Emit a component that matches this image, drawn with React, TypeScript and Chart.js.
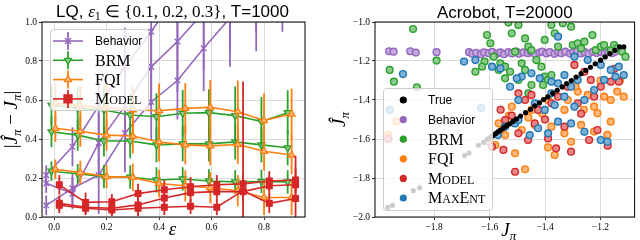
import React, { useEffect, useRef } from 'react';
import { Chart, registerables } from 'chart.js';
Chart.register(...registerables);

const SANS = '"Liberation Sans", Arial, sans-serif';
const SERIF = '"Liberation Serif", "Times New Roman", serif';

const COL = { purple: '#9467bd', green: '#2ca02c', orange: '#ff7f0e', red: '#d62728', blue: '#1f77b4', black: '#000000' };
const TINT = { purple: '#c2a8dc', green: '#8ccb8c', orange: '#ffb77a', red: '#e88585', blue: '#7fb1d6', black: '#000000' };

// ---------------- LQ (left) data ----------------
const lqXTicks = [0, 0.2, 0.4, 0.6, 0.8];
const lqYTicks = [0, 0.2, 0.4, 0.6, 0.8, 1.0];

const behaviorX = [-0.03, 0.07, 0.17, 0.27, 0.37, 0.47, 0.57, 0.67, 0.77, 0.87];
const brmX = [-0.01, 0.09, 0.19, 0.29, 0.39, 0.49, 0.59, 0.69, 0.79, 0.89];
const fqiX = [0.005, 0.1, 0.2, 0.3, 0.4, 0.5, 0.595, 0.7, 0.8, 0.905];
const modelX = [0.02, 0.12, 0.22, 0.32, 0.42, 0.52, 0.62, 0.72, 0.82, 0.92];

const behaviorA = [0.215, 0.36, 0.57, 0.77, 0.95, 1.15, 1.35, 1.55, 1.75, 1.95];
const behaviorAErr = [0.05, 0.1, 0.15, 0.2, 0.2, 0.25, 0.3, 0.35, 0.4, 0.45];
const behaviorB = [0.173, 0.12, 0.38, 0.57, 0.77, 0.9, 1.05, 1.2, 1.35, 1.5];
const behaviorBErr = [0.05, 0.08, 0.15, 0.2, 0.2, 0.26, 0.3, 0.35, 0.4, 0.45];
const behaviorC = [0.06, 0.147, 0.215, 0.43, 0.59, 0.7, 0.865, 1.02, 1.15, 1.3];
const behaviorCErr = [0.05, 0.08, 0.2, 0.2, 0.2, 0.2, 0.22, 0.25, 0.3, 0.35];

const brmA = [0.574, 0.557, 0.549, 0.523, 0.514, 0.532, 0.535, 0.52, 0.49, 0.535];
const brmAErr = [0.1, 0.11, 0.12, 0.11, 0.12, 0.12, 0.12, 0.15, 0.125, 0.115];
const brmB = [0.437, 0.42, 0.39, 0.39, 0.37, 0.375, 0.375, 0.385, 0.37, 0.355];
const brmBErr = [0.08, 0.08, 0.08, 0.09, 0.09, 0.09, 0.09, 0.09, 0.09, 0.09];
const brmC = [0.235, 0.222, 0.207, 0.205, 0.19, 0.195, 0.185, 0.18, 0.182, 0.18];
const brmCErr = [0.05, 0.05, 0.06, 0.06, 0.065, 0.06, 0.06, 0.06, 0.06, 0.06];

const fqiA = [0.585, 0.57, 0.56, 0.55, 0.545, 0.557, 0.563, 0.54, 0.495, 0.528];
const fqiAErr = [0.1, 0.1, 0.12, 0.12, 0.14, 0.13, 0.14, 0.16, 0.14, 0.13];
const fqiB = [0.455, 0.44, 0.42, 0.415, 0.385, 0.37, 0.365, 0.372, 0.337, 0.318];
const fqiBErr = [0.07, 0.08, 0.08, 0.09, 0.1, 0.1, 0.1, 0.1, 0.1, 0.1];
const fqiC = [0.245, 0.228, 0.207, 0.203, 0.172, 0.16, 0.15, 0.135, 0.1, 0.1];
const fqiCErr = [0.05, 0.06, 0.06, 0.07, 0.07, 0.08, 0.08, 0.08, 0.09, 0.09];

const modelA = [0.165, 0.075, 0.078, 0.12, 0.14, 0.155, 0.165, 0.17, 0.185, 0.19];
const modelAErr = [0.05, 0.05, 0.04, 0.05, 0.05, 0.05, 0.05, 0.05, 0.05, 0.06];
const modelB = [0.07, 0.05, 0.045, 0.062, 0.097, 0.125, 0.13, 0.13, 0.16, 0.165];
const modelBErr = [0.04, 0.04, 0.04, 0.04, 0.05, 0.05, 0.05, 0.05, 0.05, 0.05];
const modelC = [0.06, 0.045, 0.036, 0.045, 0.05, 0.055, 0.05, 0.135, 0.07, 0.095];
const modelCErr = [0.04, 0.03, 0.03, 0.04, 0.04, 0.04, 0.04, 0.56, 0.05, 0.22];

// ---------------- Acrobot (right) data ----------------
const acroXTicks = [-1.8, -1.6, -1.4, -1.2];
const acroYTicks = [-2.0, -1.8, -1.6, -1.4, -1.2, -1.0];

const acroTrue: [number, number][] = [
  [-1.967, -1.95], [-1.95, -1.94], [-1.875, -1.865], [-1.852, -1.85], [-1.69, -1.685], [-1.674, -1.672],
  [-1.64, -1.632], [-1.622, -1.617], [-1.608, -1.6], [-1.597, -1.59], [-1.588, -1.583], [-1.578, -1.572],
  [-1.57, -1.563], [-1.562, -1.556], [-1.553, -1.548], [-1.545, -1.538], [-1.536, -1.53], [-1.527, -1.522],
  [-1.516, -1.51], [-1.503, -1.498], [-1.488, -1.482], [-1.47, -1.465], [-1.452, -1.448], [-1.437, -1.43],
  [-1.42, -1.415], [-1.405, -1.398], [-1.39, -1.384], [-1.372, -1.366], [-1.356, -1.35], [-1.338, -1.333],
  [-1.322, -1.316], [-1.305, -1.3], [-1.288, -1.282], [-1.27, -1.265], [-1.253, -1.248], [-1.236, -1.232],
  [-1.219, -1.214], [-1.2, -1.196], [-1.183, -1.179], [-1.166, -1.162], [-1.148, -1.145], [-1.131, -1.128],
  [-1.116, -1.127],
];
const acroBehavior: [number, number][] = [
  [-1.962, -1.15], [-1.946, -1.152], [-1.886, -1.15], [-1.866, -1.157], [-1.791, -1.155], [-1.674, -1.155],
  [-1.662, -1.163], [-1.648, -1.158], [-1.631, -1.165], [-1.62, -1.156], [-1.603, -1.16], [-1.59, -1.153],
  [-1.572, -1.162], [-1.561, -1.156], [-1.548, -1.165], [-1.532, -1.155], [-1.519, -1.161], [-1.503, -1.152],
  [-1.494, -1.163], [-1.478, -1.156], [-1.462, -1.16], [-1.451, -1.151], [-1.437, -1.164], [-1.42, -1.157],
  [-1.41, -1.152], [-1.395, -1.161], [-1.383, -1.155], [-1.366, -1.163], [-1.352, -1.154], [-1.341, -1.16],
  [-1.327, -1.152], [-1.31, -1.162], [-1.298, -1.156], [-1.284, -1.15], [-1.27, -1.161], [-1.257, -1.155],
  [-1.243, -1.163], [-1.228, -1.153], [-1.214, -1.159], [-1.2, -1.152], [-1.185, -1.162], [-1.171, -1.155],
  [-1.158, -1.16], [-1.147, -1.153],
];
const acroBRM: [number, number][] = [
  [-1.876, -1.036], [-1.96, -1.246], [-1.945, -1.306], [-1.791, -1.198], [-1.862, -1.335], [-1.609, -1.067],
  [-1.597, -1.109], [-1.618, -1.203], [-1.627, -1.229], [-1.651, -1.255], [-1.585, -1.178], [-1.561, -1.212],
  [-1.567, -1.246], [-1.544, -1.229], [-1.526, -1.255], [-1.508, -1.152], [-1.496, -1.015], [-1.52, -1.058],
  [-1.532, -1.003], [-1.472, -1.084], [-1.46, -1.126], [-1.449, -1.144], [-1.431, -1.195], [-1.413, -1.229],
  [-1.401, -1.28], [-1.389, -1.297], [-1.401, -1.092], [-1.377, -1.015], [-1.365, -1.058], [-1.353, -1.126],
  [-1.336, -1.007], [-1.306, -1.024], [-1.3, -1.118], [-1.282, -1.109], [-1.27, -1.135], [-1.258, -1.101],
  [-1.229, -1.067], [-1.217, -1.144], [-1.199, -1.126], [-1.187, -1.118], [-1.163, -1.144], [-1.151, -1.118],
  [-1.14, -1.135], [-1.122, -1.152], [-1.11, -1.178], [-1.46, -1.366], [-1.407, -1.323], [-1.496, -1.297],
  [-1.544, -1.289], [-1.449, -1.323], [-1.377, -1.272], [-1.484, -1.212], [-1.472, -1.246],
];
const acroFQI: [number, number][] = [
  [-1.965, -1.58], [-1.935, -1.51], [-1.449, -1.451], [-1.282, -1.357], [-1.223, -1.434], [-1.187, -1.383],
  [-1.14, -1.357], [-1.116, -1.383], [-1.163, -1.4], [-1.33, -1.451], [-1.579, -1.631], [-1.508, -1.673],
  [-1.472, -1.755], [-1.389, -1.643], [-1.365, -1.682], [-1.306, -1.614], [-1.223, -1.562], [-1.175, -1.579],
  [-1.437, -1.528], [-1.544, -1.58], [-1.484, -1.554], [-1.377, -1.537], [-1.33, -1.571], [-1.27, -1.528],
  [-1.163, -1.511], [-1.567, -1.52], [-1.52, -1.434], [-1.389, -1.4], [-1.318, -1.4], [-1.246, -1.374],
  [-1.211, -1.468], [-1.41, -1.47], [-1.26, -1.45], [-1.2, -1.3], [-1.13, -1.3], [-1.29, -1.33],
  [-1.46, -1.49], [-1.53, -1.48],
];
const acroModel: [number, number][] = [
  [-1.496, -1.366], [-1.472, -1.4], [-1.449, -1.374], [-1.425, -1.451], [-1.377, -1.417], [-1.294, -1.22],
  [-1.258, -1.255], [-1.163, -1.306], [-1.134, -1.306], [-1.235, -1.297], [-1.199, -1.332], [-1.318, -1.332],
  [-1.353, -1.383], [-1.282, -1.417], [-1.223, -1.383], [-1.603, -1.614], [-1.591, -1.64], [-1.55, -1.656],
  [-1.508, -1.768], [-1.437, -1.52], [-1.389, -1.597], [-1.36, -1.648], [-1.306, -1.665], [-1.241, -1.605],
  [-1.174, -1.634], [-1.211, -1.554], [-1.496, -1.571], [-1.33, -1.537], [-1.544, -1.503], [-1.461, -1.605],
  [-1.965, -1.6], [-1.56, -1.45], [-1.52, -1.48], [-1.15, -1.24], [-1.27, -1.47], [-1.4, -1.5],
];
const acroMaxEnt: [number, number][] = [
  [-1.912, -1.267], [-1.692, -1.203], [-1.591, -1.229], [-1.651, -1.195], [-1.561, -1.238], [-1.484, -1.28],
  [-1.449, -1.263], [-1.419, -1.289], [-1.377, -1.306], [-1.353, -1.315], [-1.33, -1.272], [-1.306, -1.332],
  [-1.282, -1.297], [-1.258, -1.4], [-1.223, -1.349], [-1.187, -1.297], [-1.163, -1.246], [-1.146, -1.28],
  [-1.116, -1.272], [-1.134, -1.229], [-1.199, -1.22], [-1.246, -1.195], [-1.353, -1.075], [-1.294, -1.178],
  [-1.502, -1.289], [-1.526, -1.332], [-1.496, -1.4], [-1.437, -1.417], [-1.401, -1.451], [-1.365, -1.426],
  [-1.33, -1.383], [-1.294, -1.434], [-1.377, -1.366], [-1.508, -1.52], [-1.455, -1.58], [-1.389, -1.571],
  [-1.353, -1.511], [-1.496, -1.503], [-1.425, -1.545], [-1.306, -1.52], [-1.199, -1.605], [-1.175, -1.614],
  [-1.258, -1.563], [-1.544, -1.537], [-1.96, -1.451], [-1.63, -1.44], [-1.57, -1.58],
];

// ---------------- helpers ----------------
type Seg = { t: string; f: string; dy?: number };

function segWidth(ctx: CanvasRenderingContext2D, segs: Seg[]) {
  let w = 0;
  for (const s of segs) { ctx.font = s.f; w += ctx.measureText(s.t).width; }
  return w;
}
function drawSegs(ctx: CanvasRenderingContext2D, segs: Seg[], x: number, y: number, center: boolean, maxW?: number) {
  const w = segWidth(ctx, segs);
  const k = maxW && w > maxW ? maxW / w : 1;
  ctx.save();
  ctx.translate(center ? x - (w * k) / 2 : x, y);
  ctx.scale(k, 1);
  let cx = 0;
  ctx.textAlign = 'left';
  ctx.textBaseline = 'alphabetic';
  for (const s of segs) {
    ctx.font = s.f;
    ctx.fillText(s.t, cx, s.dy || 0);
    cx += ctx.measureText(s.t).width;
  }
  ctx.restore();
}
function labelSegs(label: string, kind: string): Seg[] {
  if (kind === 'sans') return [{ t: label, f: `12px ${SANS}`, dy: 4.3 }];
  if (kind === 'serif') return [{ t: label, f: `16px ${SERIF}`, dy: 5.3 }];
  const segs: Seg[] = [];
  let buf = '';
  let bufBig = false;
  const flush = () => {
    if (buf) segs.push({ t: buf, f: `${bufBig ? 16 : 12}px ${SERIF}`, dy: 5.3 });
    buf = '';
  };
  for (const ch of label) {
    const big = ch === ch.toUpperCase();
    if (buf && big !== bufBig) flush();
    bufBig = big;
    buf += ch.toUpperCase();
  }
  flush();
  return segs;
}
function roundRect(ctx: CanvasRenderingContext2D, x: number, y: number, w: number, h: number, r: number) {
  ctx.beginPath();
  ctx.moveTo(x + r, y);
  ctx.lineTo(x + w - r, y);
  ctx.arcTo(x + w, y, x + w, y + r, r);
  ctx.lineTo(x + w, y + h - r);
  ctx.arcTo(x + w, y + h, x + w - r, y + h, r);
  ctx.lineTo(x + r, y + h);
  ctx.arcTo(x, y + h, x, y + h - r, r);
  ctx.lineTo(x, y + r);
  ctx.arcTo(x, y, x + r, y, r);
  ctx.closePath();
}
function drawMarker(ctx: CanvasRenderingContext2D, kind: string, x: number, y: number, r: number, stroke: string, fill: string) {
  ctx.save();
  ctx.strokeStyle = stroke;
  ctx.fillStyle = fill;
  ctx.lineWidth = 1.3;
  ctx.beginPath();
  if (kind === 'circle') {
    ctx.arc(x, y, r, 0, Math.PI * 2);
    ctx.fill();
  } else if (kind === 'rect') {
    ctx.rect(x - r, y - r, 2 * r, 2 * r);
    ctx.fill();
    ctx.stroke();
  } else if (kind === 'triUp' || kind === 'triDown') {
    const s = kind === 'triUp' ? -1 : 1;
    ctx.moveTo(x, y + s * r);
    ctx.lineTo(x - r * 0.87, y - s * r * 0.5);
    ctx.lineTo(x + r * 0.87, y - s * r * 0.5);
    ctx.closePath();
    ctx.fill();
    ctx.stroke();
  } else {
    const d = r * 0.75;
    ctx.moveTo(x - d, y - d); ctx.lineTo(x + d, y + d);
    ctx.moveTo(x + d, y - d); ctx.lineTo(x - d, y + d);
    ctx.stroke();
  }
  ctx.restore();
}
const fmtTick = (v: number) => (v < -1e-9 ? '\u2212' : '') + Math.abs(v).toFixed(1);

const errorBars = {
  id: 'errorBars',
  beforeDatasetDraw(chart: any, args: any) {
    const ds = chart.data.datasets[args.index];
    if (!ds.errors) return;
    const { ctx, chartArea } = chart;
    const ys = chart.scales.y;
    ctx.save();
    ctx.beginPath();
    ctx.rect(chartArea.left, chartArea.top, chartArea.right - chartArea.left, chartArea.bottom - chartArea.top);
    ctx.clip();
    ctx.strokeStyle = ds.borderColor;
    ctx.lineWidth = 1.8;
    args.meta.data.forEach((pt: any, i: number) => {
      const v = ds.data[i].y;
      const e = ds.errors[i];
      ctx.beginPath();
      ctx.moveTo(pt.x, ys.getPixelForValue(v + e));
      ctx.lineTo(pt.x, ys.getPixelForValue(v - e));
      ctx.stroke();
    });
    ctx.restore();
  },
};

function spines(chart: any) {
  const { ctx, chartArea: a } = chart;
  ctx.save();
  ctx.strokeStyle = '#000';
  ctx.lineWidth = 1;
  ctx.strokeRect(a.left, a.top, a.right - a.left, a.bottom - a.top);
  ctx.restore();
}

function axisOpts(min: number, max: number, ticks: number[], fit: (s: any) => void) {
  return {
    type: 'linear',
    min,
    max,
    afterBuildTicks: (s: any) => { s.ticks = ticks.map((v) => ({ value: v })); },
    afterFit: fit,
    ticks: { callback: (v: any) => fmtTick(Number(v)), font: { family: SERIF, size: 9.5 }, color: '#000', padding: 2, maxRotation: 0, autoSkip: false },
    grid: { color: '#d6d6d6', lineWidth: 0.9, tickLength: 3, tickColor: '#000', tickWidth: 0.8 },
    border: { display: false },
  };
}

// ---------------- LQ chart ----------------
function lineDs(label: string, xs: number[], ys: number[], errs: number[], color: string, fill: string, style: string, rot: number, order: number) {
  return {
    label,
    data: xs.map((x, i) => ({ x, y: ys[i] })),
    errors: errs,
    borderColor: color,
    backgroundColor: fill,
    borderWidth: 1.6,
    pointStyle: style,
    rotation: rot,
    pointRadius: 4,
    pointBorderWidth: 1.3,
    pointBackgroundColor: fill,
    pointBorderColor: color,
    tension: 0,
    order,
  };
}

const lqLegend = [
  { label: 'Behavior', kind: 'sans', color: COL.purple, fill: COL.purple, marker: 'x' },
  { label: 'BRM', kind: 'serif', color: COL.green, fill: TINT.green, marker: 'triDown' },
  { label: 'FQI', kind: 'serif', color: COL.orange, fill: TINT.orange, marker: 'triUp' },
  { label: 'Model', kind: 'caps', color: COL.red, fill: COL.red, marker: 'rect' },
];

const lqDecor = {
  id: 'lqDecor',
  afterDatasetsDraw(chart: any) {
    const ctx = chart.ctx as CanvasRenderingContext2D;
    ctx.save();
    roundRect(ctx, 50.5, 29.5, 98, 81, 3);
    ctx.fillStyle = 'rgba(255,255,255,0.8)';
    ctx.fill();
    ctx.strokeStyle = '#cccccc';
    ctx.lineWidth = 1;
    ctx.stroke();
    lqLegend.forEach((e, i) => {
      const y = 41 + i * 19.3;
      ctx.strokeStyle = e.color;
      ctx.lineWidth = 1.6;
      ctx.beginPath(); ctx.moveTo(53, y); ctx.lineTo(83, y); ctx.stroke();
      ctx.lineWidth = 1.8;
      ctx.beginPath(); ctx.moveTo(68, y - 9); ctx.lineTo(68, y + 9); ctx.stroke();
      drawMarker(ctx, e.marker, 68, y, 4, e.color, e.fill);
      ctx.fillStyle = '#000';
      drawSegs(ctx, labelSegs(e.label, e.kind), 95, y, false);
    });
    ctx.restore();
  },
  afterDraw(chart: any) {
    spines(chart);
    const ctx = chart.ctx as CanvasRenderingContext2D;
    const a = chart.chartArea;
    ctx.save();
    ctx.fillStyle = '#000';
    drawSegs(ctx, [
      { t: 'LQ, ', f: `17px ${SANS}` },
      { t: '\u03B5', f: `italic 17px ${SERIF}` },
      { t: '1', f: `12px ${SERIF}`, dy: 3 },
      { t: ' \u2208 {0.1, 0.2, 0.3}', f: `17px ${SERIF}` },
      { t: ', T=1000', f: `17px ${SANS}` },
    ], (a.left + a.right) / 2 - 1, 16.5, true, 245);
    drawSegs(ctx, [{ t: '\u03B5', f: `italic 19px ${SERIF}` }], (a.left + a.right) / 2 - 1, 235, true);
    ctx.translate(17, (a.top + a.bottom) / 2);
    ctx.rotate(-Math.PI / 2);
    drawSegs(ctx, [
      { t: '|', f: `19px ${SERIF}` },
      { t: '\u0134', f: `italic 19px ${SERIF}` },
      { t: '\u03C0', f: `italic 13px ${SERIF}`, dy: 4 },
      { t: ' \u2212 ', f: `19px ${SERIF}` },
      { t: 'J', f: `italic 19px ${SERIF}` },
      { t: '\u03C0', f: `italic 13px ${SERIF}`, dy: 4 },
      { t: '|', f: `19px ${SERIF}` },
    ], 0, 0, true);
    ctx.restore();
  },
};

function lqConfig(): any {
  return {
    type: 'line',
    data: {
      datasets: [
        lineDs('Behavior', behaviorX, behaviorA, behaviorAErr, COL.purple, COL.purple, 'crossRot', 0, 4),
        lineDs('Behavior', behaviorX, behaviorB, behaviorBErr, COL.purple, COL.purple, 'crossRot', 0, 4),
        lineDs('Behavior', behaviorX, behaviorC, behaviorCErr, COL.purple, COL.purple, 'crossRot', 0, 4),
        lineDs('BRM', brmX, brmA, brmAErr, COL.green, TINT.green, 'triangle', 180, 3),
        lineDs('BRM', brmX, brmB, brmBErr, COL.green, TINT.green, 'triangle', 180, 3),
        lineDs('BRM', brmX, brmC, brmCErr, COL.green, TINT.green, 'triangle', 180, 3),
        lineDs('FQI', fqiX, fqiA, fqiAErr, COL.orange, TINT.orange, 'triangle', 0, 2),
        lineDs('FQI', fqiX, fqiB, fqiBErr, COL.orange, TINT.orange, 'triangle', 0, 2),
        lineDs('FQI', fqiX, fqiC, fqiCErr, COL.orange, TINT.orange, 'triangle', 0, 2),
        lineDs('Model', modelX, modelA, modelAErr, COL.red, COL.red, 'rect', 0, 1),
        lineDs('Model', modelX, modelB, modelBErr, COL.red, COL.red, 'rect', 0, 1),
        lineDs('Model', modelX, modelC, modelCErr, COL.red, COL.red, 'rect', 0, 1),
      ],
    },
    options: {
      animation: false,
      responsive: false,
      devicePixelRatio: 1,
      layout: { padding: { left: 0, right: 15, top: 22, bottom: 0 } },
      plugins: { legend: { display: false }, tooltip: { enabled: false }, title: { display: false } },
      scales: {
        x: axisOpts(-0.046, 0.956, lqXTicks, (s: any) => { s.height = 23; }),
        y: axisOpts(0, 1, lqYTicks, (s: any) => { s.width = 42; }),
      },
    },
    plugins: [errorBars, lqDecor],
  };
}

// ---------------- Acrobot chart ----------------
const acroSeries = [
  { label: 'True', kind: 'sans', pts: acroTrue, color: COL.black, fill: COL.black, order: 0 },
  { label: 'Behavior', kind: 'sans', pts: acroBehavior, color: COL.purple, fill: TINT.purple, order: 5 },
  { label: 'BRM', kind: 'serif', pts: acroBRM, color: COL.green, fill: TINT.green, order: 4 },
  { label: 'FQI', kind: 'serif', pts: acroFQI, color: COL.orange, fill: TINT.orange, order: 3 },
  { label: 'Model', kind: 'caps', pts: acroModel, color: COL.red, fill: TINT.red, order: 2 },
  { label: 'MaxEnt', kind: 'caps', pts: acroMaxEnt, color: COL.blue, fill: TINT.blue, order: 1 },
];

const acroDecor = {
  id: 'acroDecor',
  afterDatasetsDraw(chart: any) {
    const ctx = chart.ctx as CanvasRenderingContext2D;
    ctx.save();
    roundRect(ctx, 63.5, 88.5, 109, 122, 3);
    ctx.fillStyle = 'rgba(255,255,255,0.8)';
    ctx.fill();
    ctx.strokeStyle = '#cccccc';
    ctx.lineWidth = 1;
    ctx.stroke();
    acroSeries.forEach((e, i) => {
      const y = 100 + i * 19.6;
      drawMarker(ctx, 'circle', 83.3, y, 3.6, e.color, e.color);
      ctx.fillStyle = '#000';
      drawSegs(ctx, labelSegs(e.label, e.kind), 108, y, false);
    });
    ctx.restore();
  },
  afterDraw(chart: any) {
    spines(chart);
    const ctx = chart.ctx as CanvasRenderingContext2D;
    const a = chart.chartArea;
    ctx.save();
    ctx.fillStyle = '#000';
    drawSegs(ctx, [{ t: 'Acrobot, T=20000', f: `17px ${SANS}` }], (a.left + a.right) / 2, 18.3, true);
    drawSegs(ctx, [
      { t: 'J', f: `italic 19px ${SERIF}` },
      { t: '\u03C0', f: `italic 13px ${SERIF}`, dy: 4 },
    ], (a.left + a.right) / 2 + 4, 236, true);
    ctx.translate(25, (a.top + a.bottom) / 2);
    ctx.rotate(-Math.PI / 2);
    drawSegs(ctx, [
      { t: '\u0134', f: `italic 19px ${SERIF}` },
      { t: '\u03C0', f: `italic 13px ${SERIF}`, dy: 4 },
    ], 0, 0, true);
    ctx.restore();
  },
};

function acroConfig(): any {
  return {
    type: 'scatter',
    data: {
      datasets: acroSeries.map((s) => ({
        label: s.label,
        data: s.pts.map(([x, y]) => ({ x, y })),
        pointStyle: 'circle',
        pointRadius: s.label === 'True' ? 2.6 : 3.4,
        pointBorderWidth: s.label === 'True' ? 0 : 1.4,
        pointBackgroundColor: s.fill,
        pointBorderColor: s.color,
        order: s.order,
      })),
    },
    options: {
      animation: false,
      responsive: false,
      devicePixelRatio: 1,
      layout: { padding: { left: 0, right: 2, top: 22, bottom: 0 } },
      plugins: { legend: { display: false }, tooltip: { enabled: false }, title: { display: false } },
      scales: {
        x: axisOpts(-2.013, -1.077, acroXTicks, (s: any) => { s.height = 23; }),
        y: axisOpts(-2, -1, acroYTicks, (s: any) => { s.width = 55; }),
      },
    },
    plugins: [acroDecor],
  };
}

export default function App() {
  const leftRef = useRef<HTMLCanvasElement>(null);
  const rightRef = useRef<HTMLCanvasElement>(null);
  useEffect(() => {
    document.body.style.margin = '0';
    const c1 = new Chart(leftRef.current as HTMLCanvasElement, lqConfig());
    const c2 = new Chart(rightRef.current as HTMLCanvasElement, acroConfig());
    return () => { c1.destroy(); c2.destroy(); };
  }, []);
  return (
    <div style={{ position: 'relative', width: 640, height: 240, background: '#fff' }}>
      <canvas ref={leftRef} width={320} height={240} style={{ position: 'absolute', left: 0, top: 0, width: 320, height: 240 }} />
      <canvas ref={rightRef} width={320} height={240} style={{ position: 'absolute', left: 320, top: 0, width: 320, height: 240 }} />
    </div>
  );
}
